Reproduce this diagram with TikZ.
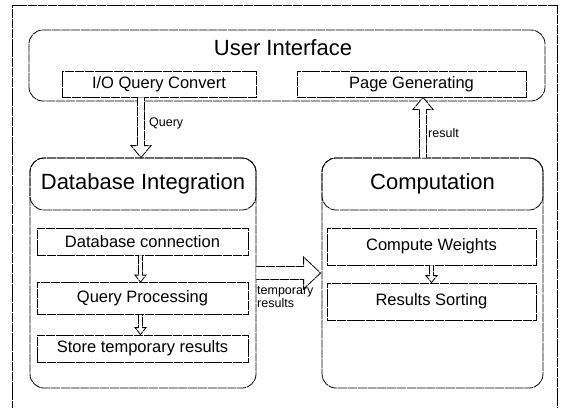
\documentclass[tikz,border=0pt]{standalone}
\usepackage{fontspec}
\setmainfont{Liberation Sans}
\usetikzlibrary{positioning,calc}

\tikzset{
  scan/.style={draw=black, line width=0.8pt, dash pattern=on 9pt off 0.8pt},
  group/.style={scan, rounded corners=14pt, inner sep=0pt},
  headbox/.style={group, minimum height=52pt, font=\fontsize{22}{24}\selectfont},
  task/.style={scan, inner sep=0pt, font=\fontsize{16.5}{18}\selectfont},
  blk/.style={scan, fill=white},
  lbl/.style={inner sep=0pt, anchor=west, align=left, font=\fontsize{12.5}{10}\selectfont},
}

% hollow block arrows: #1 start, #2 tip, #3 shaft half width, #4 head half width, #5 head length
\newcommand{\blockvert}[5]{%
  \draw[blk] let \p1=(#1), \p2=(#2) in
    ({\x2-#3},\y1) -- ({\x2-#3},{\y2+(#5)}) -- ({\x2-#4},{\y2+(#5)}) -- (\x2,\y2)
    -- ({\x2+#4},{\y2+(#5)}) -- ({\x2+#3},{\y2+(#5)}) -- ({\x2+#3},\y1);}
\newcommand{\blockright}[5]{%
  \draw[blk] let \p1=(#1), \p2=(#2) in
    (\x1,{\y2+#3}) -- ({\x2-#5},{\y2+#3}) -- ({\x2-#5},{\y2+#4}) -- (\x2,\y2)
    -- ({\x2-#5},{\y2-#4}) -- ({\x2-#5},{\y2-#3}) -- (\x1,{\y2-#3});}

\begin{document}
\begin{tikzpicture}[x=1pt, y=-1pt]
	\clip (0,0) rectangle (561,407);
	% frame, open at the bottom
	\draw[scan] (12,420) -- (12,5) -- (557,5) -- (557,420);

	% user interface
	\node[group, minimum width=516pt, minimum height=71pt] (ui) at (287,65.5) {};
	\node[font=\fontsize{22}{24}\selectfont] (uit) at (283,48) {User Interface};
	\node[task, minimum width=194pt, minimum height=26pt] (ioq) at (159,84) {I/O Query Convert};
	\node[task, minimum width=229pt, minimum height=26pt] (pg) at (411.5,84) {Page Generating};

	% database integration
	\node[group, minimum width=226pt, minimum height=230pt] (dbi) at (143,273) {};
	\node[headbox, minimum width=226pt] (dbhead) at (143,184) {Database Integration};
	\node[task, minimum width=211pt, minimum height=27pt] (dbc) at (142.5,241.5) {Database connection};
	\node[task, minimum width=211pt, minimum height=32pt] (qp) at (142.5,298.5) {Query Processing};
	\node[task, minimum width=211pt, minimum height=27pt] (str) at (142.5,348.5) {Store temporary results};

	% computation
	\node[group, minimum width=221pt, minimum height=230pt] (cpi) at (432.5,273) {};
	\node[headbox, minimum width=221pt] (cphead) at (432.5,184) {Computation};
	\node[task, minimum width=209pt, minimum height=37pt] (cw) at (431.5,246.5) {Compute Weights};
	\node[task, minimum width=209pt, minimum height=37pt] (rs) at (431.5,301.5) {Results Sorting};

	% arrows
	\blockvert{ioq.south}{$(dbhead.north)+(-2,0)$}{3.5pt}{10pt}{12pt}
	\blockvert{cphead.north}{$(pg.south)+(11.5,0)$}{3.5pt}{10pt}{-12pt}
	\blockvert{dbc.south}{$(qp.north)+(-2,0)$}{2pt}{5.5pt}{7pt}
	\blockvert{qp.south}{$(str.north)+(-2,0)$}{2pt}{5.5pt}{7pt}
	\blockvert{cw.south}{rs.north}{2pt}{5.5pt}{7pt}
	\blockright{dbi.east}{$(cpi.west)+(-1,0)$}{6.5pt}{16pt}{17pt}

	\node[lbl] (qlbl) at (149,123) {Query};
	\node[lbl] (rlbl) at (428,133) {result};
	\node[lbl] (tlbl) at (257,297) {temporary\\results};
\end{tikzpicture}
\end{document}
